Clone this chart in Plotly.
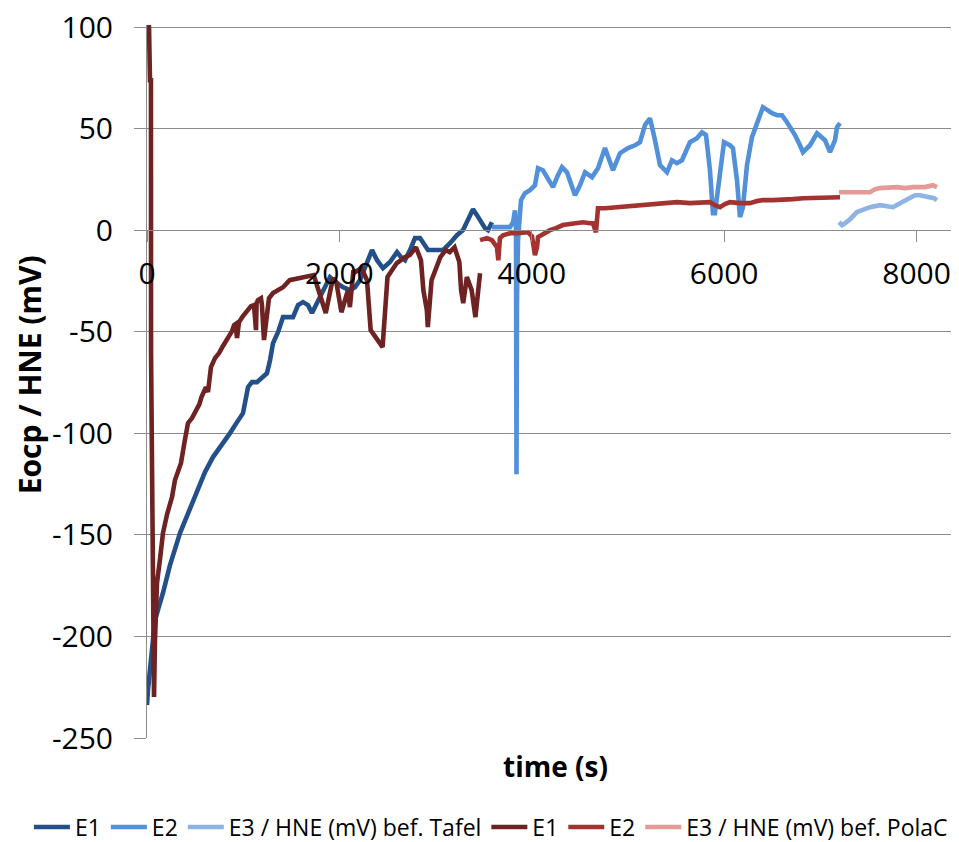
import plotly.graph_objects as go

# ---- data ----
t_e1_tafel = [0, 10, 62, 83, 166, 239, 343, 447, 520, 603, 686, 780, 863, 936, 998, 1050, 1091, 1143,
              1195, 1247, 1279, 1310, 1362, 1414, 1518, 1570, 1622, 1674, 1715, 1757, 1798, 1902, 1975,
              2037, 2110, 2162, 2214, 2277, 2339, 2391, 2453, 2526, 2599, 2640, 2682, 2734, 2786, 2838,
              2879, 2921, 2994, 3077, 3150, 3222, 3285, 3337, 3389, 3430, 3462, 3514, 3545, 3586]
e1_tafel = [-233.8, -226.4, -201.8, -191.9, -178.6, -164.9, -149.1, -136.8, -128.0, -119.1, -111.7,
            -105.8, -99.9, -94.5, -90.1, -77.3, -74.8, -74.8, -72.3, -70.4, -64.0, -55.6, -50.2, -42.8,
            -42.8, -36.9, -35.4, -36.9, -40.8, -36.9, -33.0, -23.1, -26.1, -28.1, -29.5, -28.1, -24.6,
            -17.2, -9.8, -14.8, -18.7, -15.7, -10.8, -13.3, -14.8, -9.8, -3.9, -3.9, -6.9, -9.8, -9.8,
            -9.8, -6.4, -2.5, 0.0, 4.9, 10.3, 7.4, 4.9, 1.0, 0.0, 3.9]

t_e2_tafel = [3586, 3669, 3773, 3805, 3825, 3836, 3841, 3846, 3857, 3888, 3929, 3981, 4033, 4065, 4116,
              4168, 4220, 4272, 4314, 4366, 4449, 4501, 4553, 4626, 4688, 4761, 4844, 4917, 5000, 5073,
              5125, 5177, 5229, 5281, 5333, 5405, 5457, 5509, 5561, 5644, 5717, 5769, 5811, 5852, 5883,
              5904, 5946, 5998, 6060, 6091, 6133, 6164, 6195, 6237, 6289, 6351, 6403, 6455, 6497, 6549,
              6601, 6653, 6694, 6736, 6788, 6819, 6892, 6965, 7048, 7100, 7152, 7173, 7204]
e2_tafel = [1.5, 1.5, 1.5, 3.9, 9.8, 0.0, -120.1, -34.4, -4.9, 14.8, 18.2, 19.7, 22.1, 30.5, 29.5, 25.6,
            21.2, 27.1, 31.0, 28.5, 17.2, 22.1, 28.5, 26.1, 30.5, 40.4, 29.5, 37.9, 40.4, 41.8, 43.3,
            51.7, 55.1, 44.3, 32.0, 28.5, 34.4, 33.0, 34.4, 43.3, 45.3, 48.2, 46.8, 29.5, 8.4, 8.4, 24.6,
            43.3, 41.8, 40.4, 24.6, 6.4, 11.3, 32.0, 45.8, 54.1, 60.5, 59.0, 57.6, 56.6, 56.6, 53.1,
            50.2, 46.8, 41.8, 38.4, 41.8, 47.7, 44.3, 38.4, 44.3, 50.7, 52.7]

t_e3_tafel = [7193, 7225, 7256, 7308, 7380, 7443, 7516, 7620, 7703, 7755, 7828, 7880, 7931, 7983, 8035,
              8087, 8139, 8181, 8212]
e3_tafel = [3.9, 2.5, 3.4, 5.4, 8.9, 10.3, 11.3, 12.3, 11.8, 11.3, 13.3, 14.8, 16.2, 17.2, 17.2, 16.7,
            16.2, 15.7, 14.8]

t_e1_pola = [10, 21, 31, 41, 42, 62, 73, 83, 104, 135, 166, 208, 260, 291, 353, 395, 426, 468, 499, 545,
             566, 592, 613, 634, 665, 707, 749, 790, 842, 884, 905, 920, 936, 956, 998, 1040, 1081,
             1112, 1133, 1139, 1154, 1185, 1195, 1216, 1247, 1268, 1310, 1362, 1414, 1483, 1535, 1634,
             1733, 1858, 1933, 1968, 2021, 2089, 2109, 2146, 2163, 2229, 2287, 2325, 2382, 2399, 2449,
             2500, 2553, 2596, 2613, 2679, 2731, 2796, 2848, 2873, 2909, 2919, 2958, 3037, 3049, 3105,
             3146, 3197, 3247, 3265, 3287, 3325, 3375, 3414, 3462]
e1_pola = [105.0, 100.0, 73.8, 73.8, -60.0, -229.8, -229.8, -202.0, -173.7, -162.0, -149.1, -140.0,
           -131.4, -123.0, -114.7, -103.0, -95.0, -92.5, -90.0, -85.6, -82.2, -80.0, -77.3, -79.7,
           -67.4, -63.0, -60.5, -57.0, -53.1, -49.7, -46.8, -46.3, -53.1, -45.3, -42.3, -39.4, -37.4,
           -36.9, -49.2, -35.9, -34.4, -33.5, -36.9, -54.1, -44.0, -33.5, -31.0, -29.5, -28.1, -24.6,
           -24.1, -23.1, -22.1, -40.8, -23.6, -25.6, -40.4, -29.5, -37.9, -19.7, -20.7, -18.7, -24.6,
           -49.2, -53.1, -55.1, -57.6, -23.1, -18.7, -16.2, -15.7, -13.3, -12.3, -8.4, -14.8, -29.5,
           -39.4, -47.7, -24.6, -15.7, -13.3, -9.8, -10.8, -8.4, -15.7, -29.5, -35.9, -23.1, -29.5,
           -42.8, -21.2]

t_e2_pola = [3462, 3534, 3586, 3638, 3652, 3669, 3701, 3773, 3846, 3909, 3960, 4002, 4033, 4054, 4065,
             4116, 4189, 4252, 4324, 4397, 4459, 4532, 4605, 4636, 4667, 4688, 4761, 4886, 4969, 5094,
             5177, 5301, 5405, 5509, 5644, 5748, 5852, 5904, 5956, 6008, 6060, 6164, 6268, 6341, 6403,
             6507, 6611, 6715, 6819, 6965, 7079, 7204]
e2_pola = [-4.9, -3.9, -4.9, -8.4, -14.8, -3.9, -2.5, -1.5, -1.5, -1.0, -1.0, -3.0, -12.3, -8.4, -3.4,
           -2.0, 0.0, 1.0, 2.5, 3.0, 3.4, 3.9, 3.4, 3.4, -1.0, 10.8, 10.8, 11.3, 11.8, 12.3, 12.8, 13.3,
           13.3, 13.8, 13.3, 13.8, 13.8, 12.3, 11.3, 12.8, 13.8, 13.3, 13.3, 14.3, 14.8, 14.8, 14.8,
           15.3, 15.7, 15.7, 15.7, 16.2]

t_e3_pola = [7193, 7308, 7516, 7568, 7620, 7797, 7880, 7963, 8087, 8170, 8212]
e3_pola = [18.7, 18.7, 18.7, 20.2, 20.7, 21.2, 20.7, 21.2, 21.2, 22.1, 21.2]

series_names = ["E1", "E2", "E3 / HNE (mV) bef. Tafel", "E1", "E2", "E3 / HNE (mV) bef. PolaC"]
series_colors = ["#24508A", "#5290DA", "#8DB4E2", "#6E2222", "#A33331", "#E39A98"]

y_ticks = [-250, -200, -150, -100, -50, 0, 50, 100]
y_grid = [-200, -150, -100, -50, 0, 50, 100]
x_ticks = [0, 2000, 4000, 6000, 8000]

xs = [t_e1_tafel, t_e2_tafel, t_e3_tafel, t_e1_pola, t_e2_pola, t_e3_pola]
ys = [e1_tafel, e2_tafel, e3_tafel, e1_pola, e2_pola, e3_pola]

FONT = "Open Sans"
GRID = "#8C8C8C"
Y_RANGE = [-250, 101]

fig = go.Figure()
for x, y, n, c in zip(xs, ys, series_names, series_colors):
    fig.add_trace(go.Scatter(x=x, y=y, name=n, mode="lines",
                             line=dict(color=c, width=4.6)))

# the page body adds an 8px offset, so the figure is 8px smaller on each axis
fig.update_layout(
    width=951, height=834,
    margin=dict(l=139, r=0, t=17, b=104, autoexpand=False),
    paper_bgcolor="white", plot_bgcolor="white",
    font=dict(family=FONT, color="#000000"),
    showlegend=True,
    legend=dict(orientation="h", x=-0.1454, xanchor="left", y=-0.1248, yanchor="middle",
                font=dict(family=FONT, size=23, color="#000000"),
                bgcolor="rgba(0,0,0,0)", traceorder="normal", itemwidth=36),
    xaxis=dict(range=[0, 8441], tickvals=x_ticks, ticktext=[str(v) for v in x_ticks],
               anchor="free", position=(0 - Y_RANGE[0]) / (Y_RANGE[1] - Y_RANGE[0]),
               showgrid=False, zeroline=False,
               showline=True, linecolor=GRID, linewidth=1, automargin=False,
               ticks="outside", ticklen=11, tickcolor=GRID, tickwidth=1,
               tickfont=dict(family=FONT, size=30, color="#000000"),
               ticklabelstandoff=6, ticklabeloverflow="allow"),
    yaxis=dict(range=Y_RANGE, tickvals=y_ticks, ticktext=[str(v) for v in y_ticks],
               showgrid=False, zeroline=False, automargin=False,
               showline=True, linecolor=GRID, linewidth=1,
               ticks="outside", ticklen=12, tickcolor=GRID, tickwidth=1,
               tickfont=dict(family=FONT, size=30, color="#000000"),
               ticklabelstandoff=15, ticklabeloverflow="allow"),
    yaxis2=dict(range=Y_RANGE, tickvals=y_grid, overlaying="y", side="left",
                showticklabels=False, showgrid=True, gridcolor=GRID, gridwidth=1,
                zeroline=False, showline=False, ticks="", automargin=False),
    annotations=[
        dict(text="<b>Eocp / HNE (mV)</b>", xref="paper", yref="paper", x=-0.145, y=0.509,
             xanchor="center", yanchor="middle", textangle=-90, showarrow=False,
             font=dict(family=FONT, size=30, color="#000000")),
        dict(text="<b>time (s)</b>", xref="paper", yref="paper", x=0.5025, y=-0.0393,
             xanchor="center", yanchor="middle", showarrow=False,
             font=dict(family=FONT, size=28, color="#000000")),
    ],
)
# invisible helper trace so that the grid axis is drawn
fig.add_trace(go.Scatter(x=[None], y=[None], yaxis="y2", showlegend=False, hoverinfo="skip"))

fig.write_html("out.html")
